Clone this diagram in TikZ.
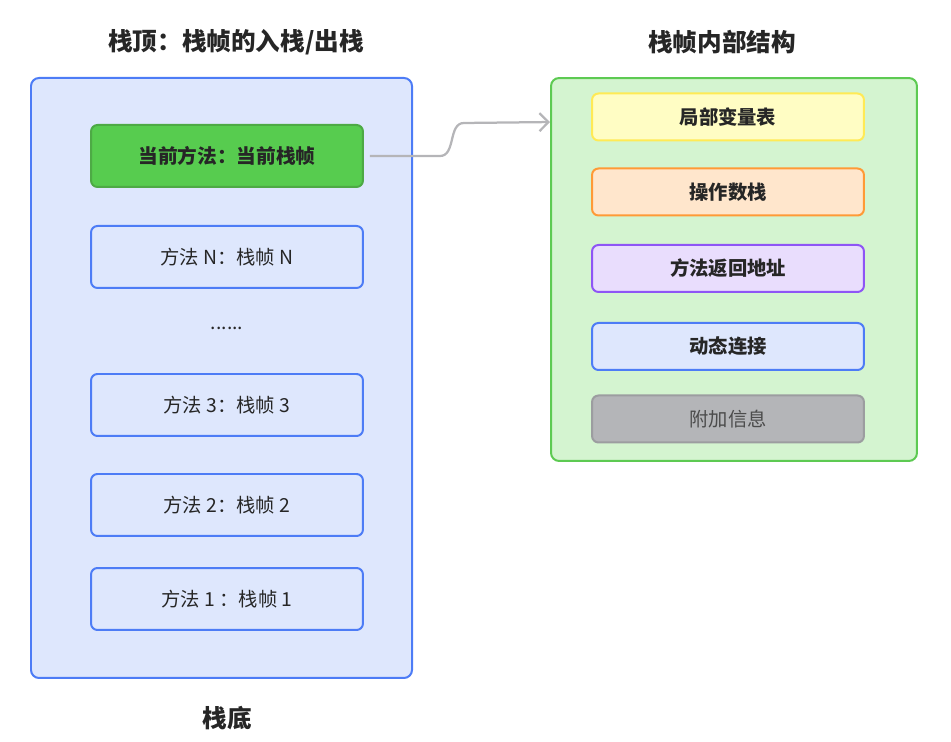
\documentclass[tikz,border=0pt]{standalone}
\usepackage{fontspec}
\setmainfont{Noto Sans CJK SC}
\usepackage{tikz}
\usetikzlibrary{arrows.meta, positioning, calc}

\tikzset{
  panel/.style={draw, line width=0.04cm, rounded corners=0.16cm},
  framebox/.style={draw, line width=0.04cm, rounded corners=0.13cm, minimum width=5.44cm, minimum height=1.24cm, text=black!85, font=\fontsize{11}{13}\selectfont},
  partbox/.style={draw, line width=0.04cm, rounded corners=0.13cm, minimum width=5.44cm, minimum height=0.94cm, text=black!85, font=\fontsize{11}{13}\selectfont\bfseries},
  heading/.style={text=black!85, font=\fontsize{14}{16}\selectfont\bfseries},
  link/.style={draw=linegray, line width=0.045cm, -{Straight Barb[length=0.18cm, width=0.36cm]}}
}

\begin{document}
\begin{tikzpicture}[x=0.02cm, y=-0.02cm]
% --- CORES ---
\definecolor{stackfill}{HTML}{DEE7FD}
\definecolor{stackline}{HTML}{4D7CF6}
\definecolor{curfill}{HTML}{57CC4F}
\definecolor{curline}{HTML}{4DAA45}
\definecolor{framefill}{HTML}{D4F4D0}
\definecolor{frameline}{HTML}{5DCA52}
\definecolor{yelfill}{HTML}{FFFDC4}
\definecolor{yelline}{HTML}{FFEA55}
\definecolor{orfill}{HTML}{FFE6CC}
\definecolor{orline}{HTML}{FF9A36}
\definecolor{purfill}{HTML}{E9DDFD}
\definecolor{purline}{HTML}{8E55F5}
\definecolor{grayfill}{HTML}{B4B5B8}
\definecolor{grayline}{HTML}{9C9DA0}
\definecolor{linegray}{HTML}{B5B5B8}

\useasboundingbox (0,0) rectangle (951,742);

% LAYER 1: pilha de quadros
\node[heading] (stacktop) at (236,42) {栈顶：栈帧的入栈/出栈};
\draw[panel, draw=stackline, fill=stackfill] (31,78) rectangle (412,678);
\node[heading] (stackbottom) at (227,718) {栈底};

\node[framebox, draw=curline, fill=curfill, font=\fontsize{11.2}{13}\selectfont\bfseries] (cur) at (227,156) {当前方法：当前栈帧};
\node[framebox, draw=stackline, fill=stackfill] (fn) at (227,257) {方法 N：栈帧 N};
\node[text=black!85, font=\fontsize{11}{13}\selectfont] (dots) at (227,328) {......};
\node[framebox, draw=stackline, fill=stackfill] (f3) at (227,405) {方法 3：栈帧 3};
\node[framebox, draw=stackline, fill=stackfill] (f2) at (227,505) {方法 2：栈帧 2};
\node[framebox, draw=stackline, fill=stackfill] (f1) at (227,599) {方法 1 ：栈帧 1};

% LAYER 2: estrutura interna
\node[heading] (frametitle) at (722,42) {栈帧内部结构};
\node[panel, draw=frameline, fill=framefill, minimum width=7.32cm, minimum height=7.66cm] (frame) at (734,269.5) {};

\node[partbox, draw=yelline, fill=yelfill] (locals) at (728,117) {局部变量表};
\node[partbox, draw=orline, fill=orfill] (operands) at (728,192) {操作数栈};
\node[partbox, draw=purline, fill=purfill] (retaddr) at (728,268.5) {方法返回地址};
\node[partbox, draw=stackline, fill=stackfill] (dynlink) at (728,346.5) {动态连接};
\node[partbox, draw=grayline, fill=grayfill, font=\fontsize{11}{13}\selectfont, text=black!70] (extra) at (728,419) {附加信息};

% LAYER 3: seta
\coordinate (arrowend) at ($(frame.north west)+(0,45)$);
\draw[link] ([xshift=0.12cm]cur.east) -- ++(70,0) to[out=0, in=180] ++(24,-33) -- (arrowend);
\end{tikzpicture}
\end{document}
